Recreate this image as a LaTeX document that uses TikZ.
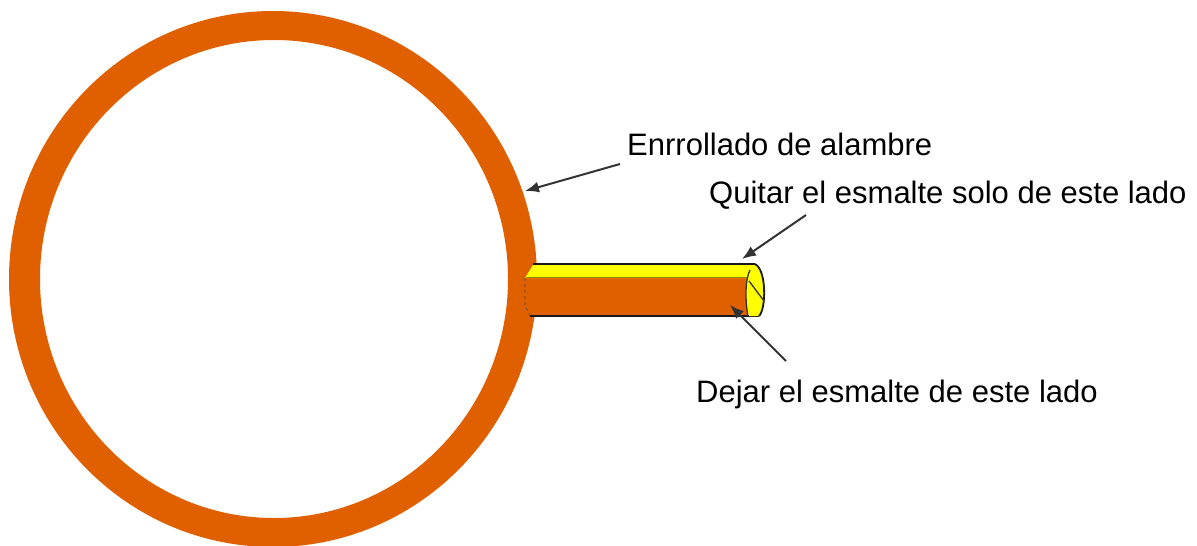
\documentclass[tikz,border=0pt]{standalone}
\usepackage{fontspec}
\setmainfont{Liberation Sans}
\usetikzlibrary{arrows.meta}
\definecolor{wireorange}{RGB}{224,96,0}
\definecolor{wireyellow}{RGB}{255,255,0}
\begin{document}
\begin{tikzpicture}[x=1pt,y=-1pt,
  label/.style={font=\fontsize{31}{35}\selectfont,inner sep=0pt,anchor=base west},
  pointer/.style={-{Latex[length=14pt,width=11pt]},line width=2pt,black!80},
  outline/.style={draw=black!90,line width=1.8pt}]
\useasboundingbox (0,0) rectangle (1197,546);
% coil
\fill[wireorange,even odd rule] (273,279) ellipse (264 and 268) (274,279) ellipse (234 and 239);
% wire end
\fill[wireorange] (525,278) -- (747,278) -- (747,316) -- (530,316) -- (525,305) -- cycle;
\fill[wireyellow] (533,265) -- (755,265) -- (747,278) -- (525,278) -- cycle;
\draw[line width=1.5pt,olive] (526,277.5) -- (747,277.5);
\draw[outline] (533,264) -- (755,264);
\draw[outline] (530,316) -- (759,316);
\draw[line width=0.6pt,black!70,dashed] (525,278) -- (525,305) -- (530,316);
\fill[wireyellow] (755,265) .. controls (767,270) and (766,310) .. (760,316) -- (749,316) .. controls (745,300) and (745,280) .. (749,272) -- cycle;
\draw[outline] (755,264) .. controls (767,270) and (766,310) .. (759,316);
\draw[line width=1.3pt,black!80] (750,270) .. controls (745,280) and (745,300) .. (748,316);
\draw[line width=1.3pt,black!80] (749,281) -- (764,301);
% labels
\node[label] (coil) at (627,155) {Enrrollado de alambre};
\node[label] (bare) at (709,203) {Quitar el esmalte solo de este lado};
\node[label] (kept) at (696,402) {Dejar el esmalte de este lado};
\coordinate (coilFrom) at (620,164);
\coordinate (coilTip) at (525,191);
\coordinate (bareFrom) at (806,215);
\coordinate (bareTip) at (742,259);
\coordinate (keptFrom) at (786,361);
\coordinate (keptTip) at (730,305);
\draw[pointer] (coilFrom) -- (coilTip);
\draw[pointer] (bareFrom) -- (bareTip);
\draw[pointer] (keptFrom) -- (keptTip);
\end{tikzpicture}
\end{document}
